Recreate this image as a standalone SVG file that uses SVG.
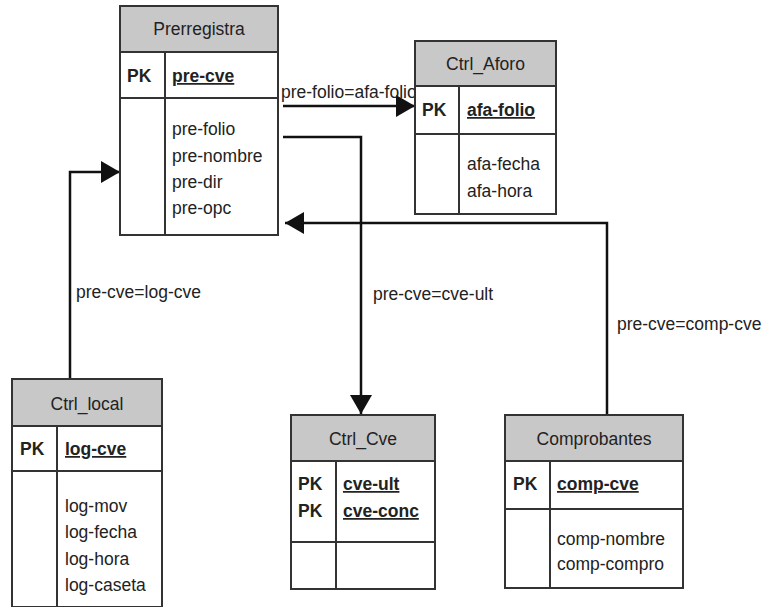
<svg xmlns="http://www.w3.org/2000/svg" width="765" height="607" viewBox="0 0 765 607">
<defs>
<style>
.box{fill:#fff;stroke:#333;stroke-width:2}
.hdr{fill:#c8c8c8;stroke:#333;stroke-width:2}
.ln{stroke:#333;stroke-width:2;fill:none}
text{font-family:"Liberation Sans",Arial,sans-serif;font-size:17.5px;fill:#222}
.t{text-anchor:middle}
.pk{font-weight:bold}
.key{font-weight:bold;text-decoration:underline}
.conn{stroke:#111;stroke-width:2.5;fill:none}
</style>
<marker id="arr" markerUnits="userSpaceOnUse" markerWidth="20" markerHeight="22" refX="19" refY="11" orient="auto">
<path d="M0,0 L19,11 L0,22 z" fill="#111"/>
</marker>
</defs>
<rect width="765" height="607" fill="#fff"/>

<g id="connectors">
<path class="conn" d="M283,106 H415" marker-end="url(#arr)"/>
<path class="conn" d="M283,137 H361 V414" marker-end="url(#arr)"/>
<path class="conn" d="M607,415 V223 H285" marker-end="url(#arr)"/>
<path class="conn" d="M70,379 V172 H120" marker-end="url(#arr)"/>
<text x="281" y="98">pre-folio=afa-folio</text>
<text x="373" y="300">pre-cve=cve-ult</text>
<text x="617" y="330">pre-cve=comp-cve</text>
<text x="76" y="298">pre-cve=log-cve</text>
</g>

<g id="Prerregistra">
<rect class="box" x="120" y="6" width="158" height="229"/>
<rect class="hdr" x="120" y="6" width="158" height="46"/>
<line class="ln" x1="120" y1="98" x2="278" y2="98"/>
<line class="ln" x1="165" y1="52" x2="165" y2="235"/>
<text class="t" x="199" y="35">Prerregistra</text>
<text class="pk" x="127" y="82">PK</text>
<text class="key" x="172" y="82">pre-cve</text>
<text x="172" y="135">pre-folio</text>
<text x="172" y="162">pre-nombre</text>
<text x="172" y="188">pre-dir</text>
<text x="172" y="214">pre-opc</text>
</g>

<g id="Ctrl_Aforo">
<rect class="box" x="415" y="41" width="141" height="173"/>
<rect class="hdr" x="415" y="41" width="141" height="45"/>
<line class="ln" x1="415" y1="134" x2="556" y2="134"/>
<line class="ln" x1="459" y1="86" x2="459" y2="214"/>
<text class="t" x="485.5" y="70">Ctrl_Aforo</text>
<text class="pk" x="422" y="116">PK</text>
<text class="key" x="467" y="116">afa-folio</text>
<text x="467" y="170">afa-fecha</text>
<text x="467" y="197">afa-hora</text>
</g>

<g id="Ctrl_local">
<rect class="box" x="12" y="379" width="150" height="228"/>
<rect class="hdr" x="12" y="379" width="150" height="47"/>
<line class="ln" x1="12" y1="471" x2="162" y2="471"/>
<line class="ln" x1="57" y1="426" x2="57" y2="607"/>
<text class="t" x="87" y="410">Ctrl_local</text>
<text class="pk" x="20" y="455">PK</text>
<text class="key" x="65" y="455">log-cve</text>
<text x="65" y="512">log-mov</text>
<text x="65" y="538">log-fecha</text>
<text x="65" y="565">log-hora</text>
<text x="65" y="591">log-caseta</text>
</g>

<g id="Ctrl_Cve">
<rect class="box" x="291" y="415" width="144" height="174"/>
<rect class="hdr" x="291" y="415" width="144" height="46"/>
<line class="ln" x1="291" y1="542" x2="435" y2="542"/>
<line class="ln" x1="336" y1="461" x2="336" y2="589"/>
<text class="t" x="363" y="445">Ctrl_Cve</text>
<text class="pk" x="298" y="490">PK</text>
<text class="pk" x="298" y="517">PK</text>
<text class="key" x="343" y="490">cve-ult</text>
<text class="key" x="343" y="517">cve-conc</text>
</g>

<g id="Comprobantes">
<rect class="box" x="505" y="415" width="178" height="173"/>
<rect class="hdr" x="505" y="415" width="178" height="46"/>
<line class="ln" x1="505" y1="509" x2="683" y2="509"/>
<line class="ln" x1="550" y1="461" x2="550" y2="588"/>
<text class="t" x="594" y="445">Comprobantes</text>
<text class="pk" x="513" y="490">PK</text>
<text class="key" x="557" y="490">comp-cve</text>
<text x="557" y="545">comp-nombre</text>
<text x="557" y="570">comp-compro</text>
</g>
</svg>
